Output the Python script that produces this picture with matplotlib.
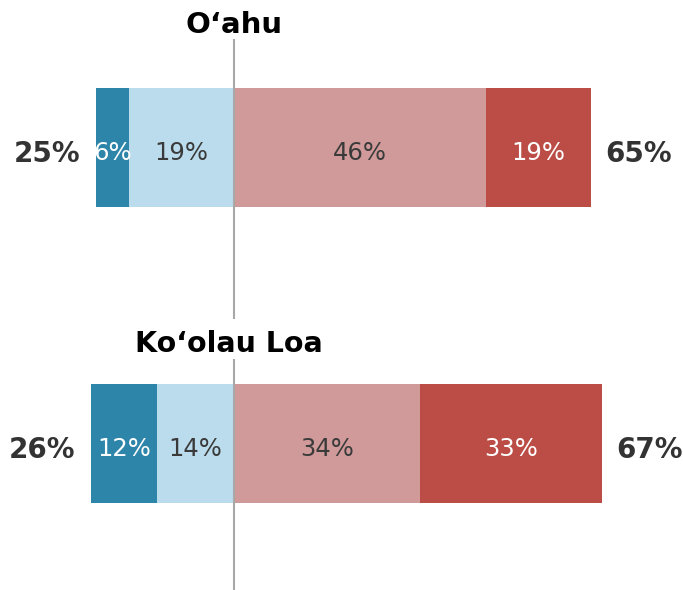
import matplotlib
matplotlib.use("Agg")
import matplotlib.pyplot as plt

# ---- data ----
regions = ["O\u02bbahu", "Ko\u02bbolau Loa"]
strong_neg = [6, 12]     # dark blue
weak_neg = [19, 14]      # light blue
weak_pos = [46, 34]      # pink
strong_pos = [19, 33]    # red
total_neg = [25, 26]
total_pos = [65, 67]

# ---- style ----
c_dark_blue = "#2d85a9"
c_light_blue = "#bbdcec"
c_pink = "#cf9a99"
c_red = "#bb4d46"
c_text = "#3a3a3a"
c_total = "#333333"
c_line = "#a8a8a8"

px_per_pct = 5.49
center_px = 233.7
W, H = 683, 590

fig = plt.figure(figsize=(W / 100, H / 100), dpi=100)
ax = fig.add_axes([0, 0, 1, 1])
ax.set_xlim(-center_px / px_per_pct, (W - center_px) / px_per_pct)
ax.set_ylim(H, 0)
ax.axis("off")

bar_centers = [147.5, 443.5]
bar_h = 119
title_base = [33, 352]
title_shift_px = [0, -5]
title_sizes = [21, 20.5]
line_spans = [(39, 319), (359, 590)]

inner_fs = 17.5
total_fs = 20

for i, name in enumerate(regions):
    yc = bar_centers[i]
    left_dark = -(strong_neg[i] + weak_neg[i])
    segs = [
        (left_dark, strong_neg[i], c_dark_blue, "white"),
        (-weak_neg[i], weak_neg[i], c_light_blue, c_text),
        (0, weak_pos[i], c_pink, c_text),
        (weak_pos[i], strong_pos[i], c_red, "white"),
    ]
    for left, width, col, tcol in segs:
        ax.barh(yc, width, left=left, height=bar_h, color=col, edgecolor="none", zorder=1)
        ax.text(left + width / 2, yc + 13, f"{width}%", ha="center", va="baseline",
                fontsize=inner_fs, color=tcol, family="DejaVu Sans", zorder=3)
    # totals
    ax.annotate(f"{total_neg[i]}%", xy=(left_dark, yc + 14), xytext=(-11.5, 0),
                textcoords="offset points", ha="right", va="baseline",
                fontsize=total_fs, fontweight="bold", color=c_total, family="DejaVu Sans")
    ax.annotate(f"{total_pos[i]}%", xy=(weak_pos[i] + strong_pos[i], yc + 14), xytext=(10.5, 0),
                textcoords="offset points", ha="left", va="baseline",
                fontsize=total_fs, fontweight="bold", color=c_total, family="DejaVu Sans")
    # title
    ax.text(title_shift_px[i] / px_per_pct, title_base[i], name, ha="center", va="baseline",
            fontsize=title_sizes[i], fontweight="bold", color="black", family="DejaVu Sans")
    # center line
    y0, y1 = line_spans[i]
    ax.vlines(0, y0, y1, color=c_line, lw=1.5, zorder=2)

fig.savefig("out.png", dpi=100)
